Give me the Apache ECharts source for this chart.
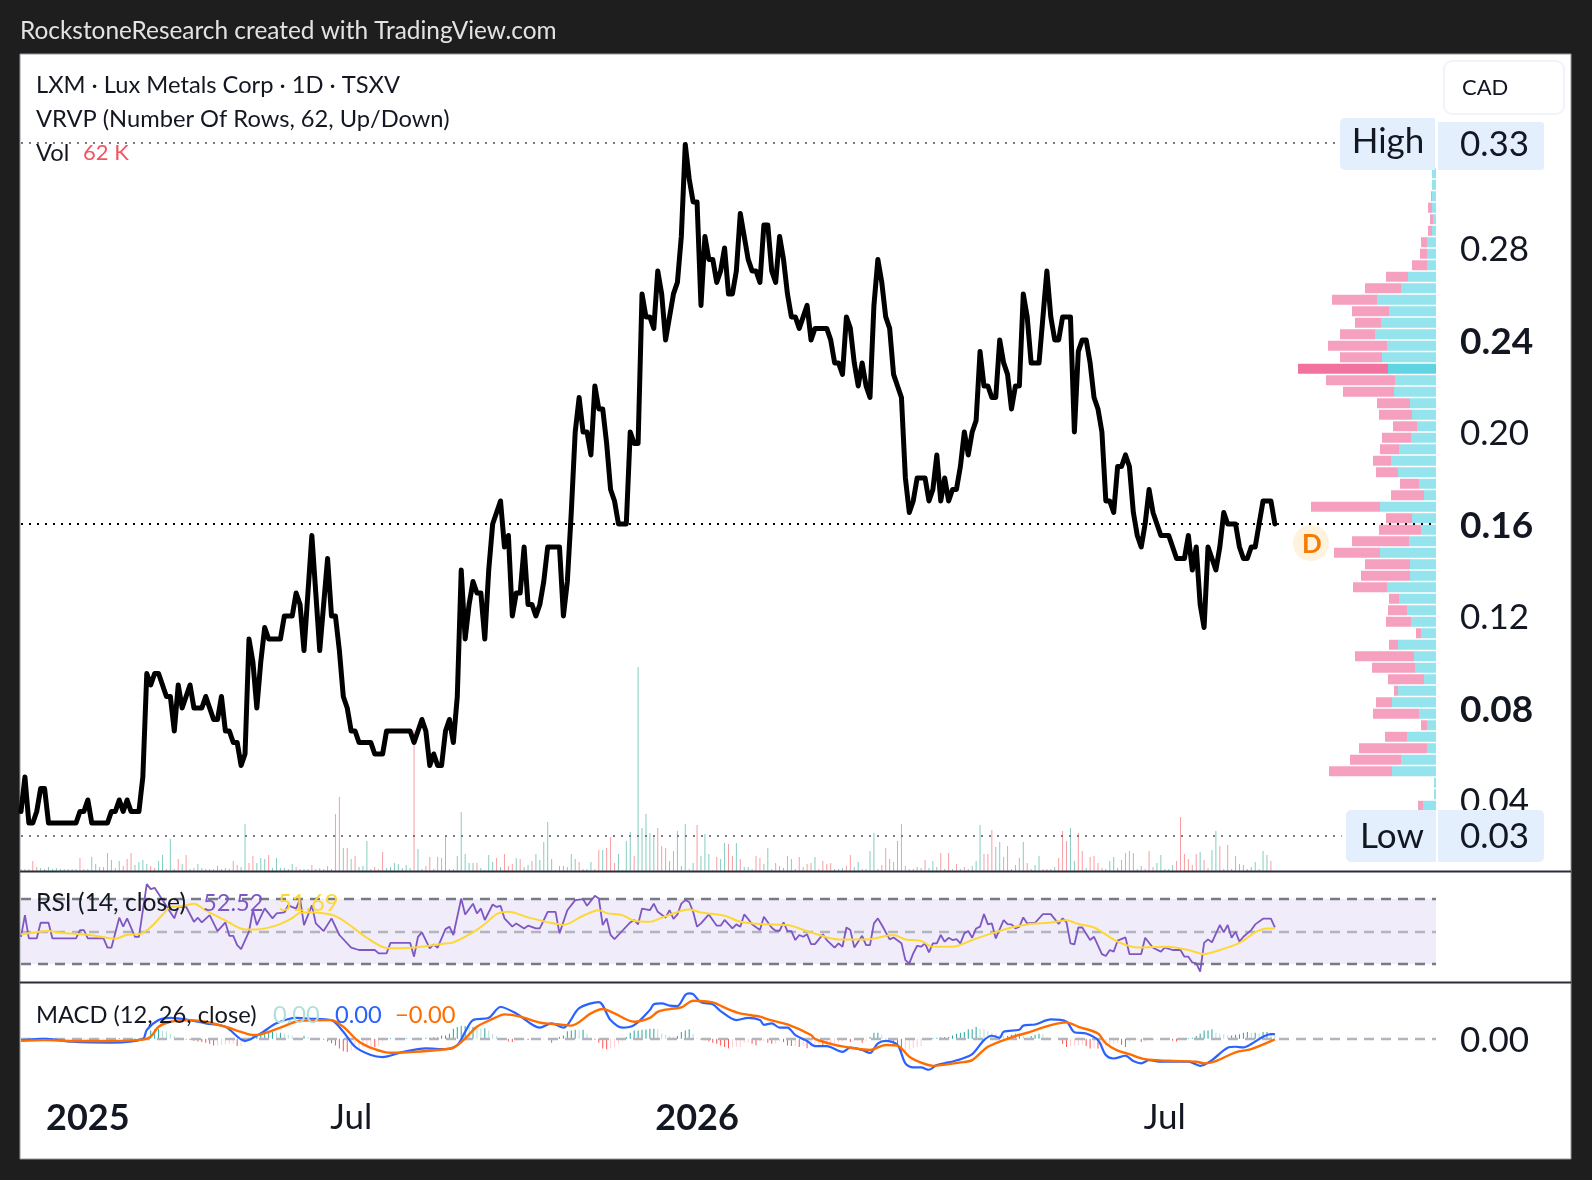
<!DOCTYPE html>
<html><head><meta charset="utf-8">
<style>html,body{margin:0;padding:0;background:#1e1e1e}#c{width:1592px;height:1180px}</style>
<script src="https://cdn.jsdelivr.net/npm/echarts@6/dist/echarts.min.js"></script>
</head><body><div id="c"></div>
<script>
const price=[.035,.05,.03,.03,.035,.045,.045,.03,.03,.03,
.03,.03,.03,.03,.03,.035,.035,.04,.03,.03,
.03,.03,.03,.035,.035,.04,.035,.04,.035,.035,
.035,.05,.095,.09,.095,.095,.09,.085,.085,.07,
.09,.08,.085,.09,.08,.08,.08,.085,.08,.075,
.075,.085,.07,.07,.065,.065,.055,.06,.11,.10,
.08,.10,.115,.11,.11,.11,.11,.12,.12,.12,
.13,.125,.105,.13,.155,.13,.105,.125,.145,.12,
.12,.105,.085,.08,.07,.07,.065,.065,.065,.065,
.06,.06,.06,.07,.07,.07,.07,.07,.07,.07,
.065,.07,.075,.07,.055,.06,.055,.055,
.07,.075,.065,.085,.14,.11,.125,.135,.13,.13,
.11,.14,.16,.165,.17,.15,.155,.12,.13,.13,
.15,.125,.125,.12,.125,.135,.15,.15,.15,.15,
.12,.135,.165,.20,.215,.20,.20,.19,.22,.21,
.21,.195,.175,.17,.16,.16,.16,.20,.195,.195,
.26,.25,.25,.245,.27,.26,.24,.25,.26,
.265,.285,.325,.31,.30,.30,.255,.285,.275,.275,
.265,.27,.28,.26,.26,.27,.295,.285,.275,.27,
.27,.265,.29,.29,.27,.265,.285,.275,.26,.25,
.25,.245,.25,.255,.24,.245,.245,.245,.245,.24,
.23,.23,.225,.25,
.245,.23,.22,.23,.22,.215,.255,.275,.265,.25,
.245,.225,.22,.215,.18,.165,.17,.18,.18,.18,
.17,.175,.19,.17,.18,.17,.175,.175,.185,.20,
.19,.20,.205,.235,.22,.22,.215,.215,.24,.23,
.225,.21,.22,.22,.26,.25,.23,.23,.23,.25,
.27,.25,.24,.24,.25,.25,.25,.20,.235,.24,
.24,.23,.215,.21,.20,.17,.17,.165,.185,.185,
.19,.185,.165,.155,.15,.16,.175,.165,.16,.155,
.155,.155,.15,.145,.145,.145,.155,.14,.15,.125,
.115,.15,.145,.14,.15,.165,.16,.16,.16,.15,
.145,.145,.15,.15,.16,.17,.17,.17,.16];
// positive: up bar, negative: down bar
const volume=[2,2,-2,-10,-4,3,2,4,2,3,2,2,2,2,2,-13,2,2,14,7,-4,4,-18,11,-3,10,-5,-12,-18,6,9,11,7,-5,-3,10,16,-2,32,2,-12,7,-16,2,-3,7,3,-2,-2,-2,5,-2,-3,2,-10,-6,4,47,-8,-15,8,13,12,-16,3,13,3,3,2,7,-4,-2,2,2,-6,-2,3,-2,-5,-2,-57,-74,23,-23,12,-15,4,5,30,2,-4,-2,-19,3,4,8,7,3,6,3,-141,22,2,
-5,-14,2,-14,-13,35,2,-2,15,59,17,8,8,-8,3,1,16,9,-13,4,-17,-5,-7,13,-12,4,6,-10,17,11,29,49,12,1,-5,-5,4,17,12,-9,2,2,9,-2,-21,21,-23,-34,-8,17,1,30,39,-15,204,43,57,38,35,-43,-25,-23,10,-20,40,5,47,-2,8,-46,15,37,17,-1,-14,12,28,-27,-15,28,-12,4,4,-2,-15,-13,7,23,-2,-8,5,3,-15,12,2,-14,-4,-7,-8,14,-2,-10,-7,-8,2,
2,3,-5,-16,4,9,-2,2,20,38,2,-6,-23,12,-9,-30,-47,-5,2,2,-4,3,-11,3,10,4,-18,2,-18,2,-7,2,-4,-2,5,10,46,-17,-17,-41,24,29,-14,-25,2,6,-13,29,-8,2,6,15,-2,-2,-2,4,-13,-40,-30,43,10,-38,-20,3,-14,-15,-8,-3,2,10,14,3,-11,-18,-20,18,2,5,-2,-20,-4,8,16,2,2,6,-10,-54,-17,-12,-6,-17,19,-11,-3,21,40,-25,2,-26,2,-15,7,-6,2,4,9,2,20,16,-10];
const rsi=[[0,46.7],[1,60],[2,45.7],[4,45.7],[5,55.3],[7,55.3],[8,45.7],[14,45.7],[15,50.8],[16,50.8],[17,45.7],[21,45.7],[22,40],[23,40],[25,58.4],[26,52.9],[27,58],[29,46.7],[30,46.7],[32,79],[33,75.9],[34,76.7],[36,69.2],[39,58],[40,65.1],[42,65.1],[44,55.9],[45,58.4],[46,55.5],[48,60],[50,50.2],[52,55.5],[53,47.3],[54,47.3],[55,41.6],[56,39.2],[58,49.8],[59,63.1],[60,53.9],[62,64.1],[64,58],[65,61],[67,61.6],[68,66],[70,64],[71,70],[72,53.9],[74,66],[75,54.9],[77,50.2],[79,58],[81,47.8],[84,40],[86,38.6],[90,38.6],[91,36.5],[93,36.5],[94,43],[99,43],[100,34.5],[101,46.7],[102,49.4],[104,39.6],[105,42],[106,40],[108,51.4],[109,52.9],[110,47.8],[112,70.2],[113,60.4],[115,67],[116,61],[117,64],[118,57],[120,66.5],[121,65],[122,65.7],[123,58],[125,52.9],[126,54.9],[128,51.8],[129,53.5],[131,51.8],[132,51.8],[134,62],[136,62],[137,48.8],[139,63],[141,69.2],[143,69.8],[144,65.7],[146,71.8],[147,70.2],[148,53.9],[149,58],[150,47.8],[151,45.3],[153,50.4],[155,55.5],[156,56.9],[157,54.3],[158,64],[160,63],[161,67],[162,62],[164,58.4],[165,63],[166,57.6],[167,60.4],[168,67],[169,69.2],[170,68],[171,62],[172,52.9],[173,54.9],[175,60.4],[177,53.5],[178,53.5],[179,57],[181,51.8],[182,54.3],[183,52.9],[184,60.4],[185,57.6],[186,54.3],[188,50.8],[189,59],[191,52.2],[192,50.4],[193,50.4],[194,55.5],[195,50.2],[196,50.2],[197,44.7],[198,47.8],[199,46.7],[200,48.2],[201,42.2],[202,42.2],[204,48.2],[205,44.7],[207,40],[208,42.7],[209,40.6],[210,52.4],[211,50.8],[212,40.2],[214,47.3],[215,41.6],[216,41.6],[217,54.9],[218,58],[219,53.9],[221,45.1],[222,46.3],[224,42.7],[225,32.4],[226,30.4],[227,36.5],[228,41.2],[229,40.6],[230,42.7],[231,37.1],[232,42.7],[233,42.7],[234,47.8],[235,43.7],[236,46.1],[237,44.7],[238,45.3],[239,42.7],[240,48.8],[241,50.2],[242,46.1],[243,51.8],[244,52.9],[245,60.6],[246,54.3],[247,54.9],[248,45.7],[250,56.9],[251,54.5],[252,54.3],[253,51.8],[254,52.9],[255,58.6],[256,54.9],[258,55.3],[260,60.6],[262,60.6],[264,54.5],[265,58],[266,55.5],[267,42.7],[268,42],[269,52.4],[270,52.4],[272,44.7],[273,46.7],[275,36.1],[276,34.9],[277,38.6],[278,37.6],[279,44.3],[281,46.3],[282,36.1],[285,36.1],[286,46.1],[288,40],[290,37.6],[291,40],[293,38.6],[295,38.6],[296,34.5],[297,34.5],[298,31],[299,30.4],[300,25.3],[301,43],[302,45.1],[303,43.3],[305,53.9],[306,49.4],[307,53.9],[308,46.1],[309,49.8],[310,43.7],[311,46.7],[313,50.8],[314,54.3],[316,57.8],[318,57.8],[319,52.5]];
const rsiMa=[[0,48.2],[2,48.8],[7,50.2],[10,49.2],[18,47.6],[24,45.5],[27,47.9],[30,48.2],[33,52.6],[36,60.2],[38,64.9],[41,65.5],[44,67],[47,62.9],[52,56.7],[57,51.2],[60,51.2],[65,53.7],[69,58.2],[71,61.4],[74,61.8],[79,60.2],[82,56.7],[88,46.1],[93,39.9],[96,39.7],[101,40.3],[107,42.3],[110,43.3],[115,49.4],[118,54.5],[121,60.6],[124,62],[129,58.6],[135,55.1],[138,54],[143,59.6],[147,63],[149,61.2],[153,60],[156,56.5],[160,55.9],[163,58.4],[170,63.5],[173,61.6],[179,59.6],[183,55.9],[188,54.5],[195,53.9],[201,49.4],[208,45.1],[215,45.1],[222,47.8],[225,45.1],[229,44.1],[232,40.6],[237,40.6],[242,44.7],[247,48.8],[252,52.4],[256,54.3],[262,55.5],[266,56.9],[269,54.5],[273,52.4],[279,43.7],[284,40.2],[292,40.6],[297,38.6],[301,36.1],[305,38.6],[310,43],[314,49.4],[317,51.8],[319,51.8]];
const macd=[[0,-.6],[6,-.1],[13,-1.3],[23,-1.7],[31,-.1],[32,3.8],[35,8.1],[38,9.1],[43,8.1],[47,6.7],[52,5.2],[57,-.9],[61,2.3],[65,6.7],[70,9.1],[73,8.8],[79,8.1],[82,3],[85,-3.5],[89,-7.1],[92,-8],[97,-5.8],[103,-4.2],[108,-4.5],[111,-2.8],[113,3],[115,8.1],[119,9.1],[122,13.8],[126,11],[132,4.8],[135,6.7],[138,4.8],[142,13.3],[147,15.9],[150,8.1],[153,4.8],[156,5.9],[160,12.5],[161,15],[163,15.4],[165,14.4],[167,14.2],[169,19],[170,19.7],[171,19.4],[173,15.8],[176,15],[178,12],[182,8.1],[185,9.1],[188,8.1],[189,6],[191,6.7],[193,4.8],[195,4.8],[197,1.6],[200,-1],[202,-3.2],[205,-3.2],[209,-5.7],[211,-3.9],[214,-4.9],[216,-6.2],[218,-2],[220,-.9],[223,-2.7],[225,-10.7],[227,-12.5],[229,-12.5],[231,-13.5],[233,-11.4],[236,-10.3],[239,-8.9],[242,-6.7],[245,-.6],[247,1.3],[249,.4],[250,3],[254,3.9],[255,5.7],[258,6.2],[262,8.4],[266,7.4],[268,2.8],[271,2.3],[274,-.6],[276,-7.1],[278,-8.6],[281,-7.4],[283,-9.7],[285,-10.7],[287,-9.3],[290,-10],[297,-10],[300,-11.8],[303,-9.3],[307,-3.9],[309,-3.5],[311,-3.8],[313,-2.3],[316,.9],[318,2],[319,2]];
const signal=[[0,-.9],[6,-.6],[13,-1],[23,-1],[31,-.4],[33,.9],[35,5.2],[38,7.4],[43,8.1],[47,7.4],[52,5.2],[56,3],[59,1.6],[61,1.9],[66,4.8],[71,7.8],[79,8.1],[82,5.2],[86,-1.3],[90,-4.5],[94,-6.1],[100,-5.7],[106,-4.9],[110,-3.9],[113,.1],[116,5.2],[120,8.6],[123,10.6],[127,9.6],[132,7],[137,6.2],[140,5.7],[145,11],[148,12.9],[151,11],[156,7.4],[160,9.1],[162,11.7],[165,12.9],[168,13.6],[171,16.5],[176,15.8],[179,13.5],[183,11],[188,9.6],[190,8.4],[195,6.2],[201,1.6],[202,-.1],[207,-2.7],[211,-3.9],[216,-4.9],[220,-2.7],[223,-3],[226,-7.8],[229,-10.4],[232,-11.8],[239,-10.3],[242,-9.3],[246,-3.5],[252,.6],[256,2.6],[262,5.9],[266,7.1],[269,5.2],[274,2.3],[276,-2],[279,-5.2],[282,-6.7],[286,-8.9],[292,-9.6],[299,-10],[301,-10.7],[304,-9.7],[309,-5.9],[313,-4.5],[319,-.3]];
const hist=[.2,.3,.1,.2,-.2,-.1,.2,.1,-.2,-.1,-.2,-.1,.1,-.1,-.2,-.1,.1,-.2,-.1,.1,-.1,.1,.1,-.2,.2,.3,.2,.1,-.1,.2,.3,.2,
.2,3.6,4.1,4.1,3.6,3.2,2.2,1.2,.7,.4,-.3,-.6,-.9,-1.2,-1.4,-1.7,-2.2,-2.9,-2.9,-2.6,-2.5,-2.2,-2.2,-3.2,-3.2,-2.2,.4,1.4,1.7,2.6,2.9,2.9,2.9,2.6,2.6,2.2,1.7,1.4,.7,.4,1.2,.7,.3,.3,-.2,-.4,-1.2,-2,-2.9,-4.3,-5.5,-5.8,-5.1,-5.1,-4.3,-3.6,-2.9,-2.9,-3.6,-3.2,-1.2,-.3,.3,.2,.3,.2,.3,.2,.3,.4,.3,.4,.4,.6,.6,1.4,1.4,2.2,4.3,5.1,5.5,5.5,5.1,5.1,4.6,4.3,4.6,3.6,2.2,1.2,.3,-.6,-1.2,-1.4,-.9,-.6,-.4,-.6,-.6,-.4,-.4,-.4,-.4,-1.7,-.3,.7,1.4,3.2,3.6,3.9,3.6,3.9,2.2,.4,-.4,-1.7,-4.3,-4.6,-4.3,-3.6,-2.2,-1.2,.7,2.6,3.6,3.6,3.9,4,
4.3,4.3,4.1,2.2,1.7,1.2,.7,1.2,2.9,3.6,4.1,2.2,.3,-.4,-.7,-1.2,-1.7,-2.2,-2.9,-3.6,-4.1,-3.6,-3.6,-3.6,-1.7,-1.7,-2.2,-2.9,-1.4,-1.2,-1.7,-2.2,-2.2,-1.2,-1.4,-2.9,-3.2,-3.2,-3.6,-3.2,-4.1,-3.6,-3.2,-2.6,-2.9,-2.6,-2.2,-2.2,-1.4,-1.2,-.6,-1.4,-1.2,-.9,-1.7,-1.2,.7,2.6,2.6,1.7,.4,-.3,-1.2,-3.6,-6.1,-5.5,-4.6,-4.1,-3.6,-3.2,-.7,.1,.3,.4,.6,.7,.7,1.4,2.2,2.6,2.9,4.1,4.1,5.1,4.3,4.1,3.2,2.6,2.2,1.7,1.2,1.2,1.7,2.2,2.2,1.2,.4,1.2,1.7,2.2,2,.6,.3,.1,-.3,-2.2,-3.6,-3.2,-2.9,-2.9,-2.6,-3.2,-4.3,-4.1,-4.3,-4.1,-3.2,-2.9,-2.2,-1.7,-2.6,-3.6,-1.4,-.6,-.3,-1.4,-1.2,-.3,-.4,-.3,-.3,-.4,-.3,-.9,-1.2,-.3,-.4,.3,.4,1.2,2.2,3.6,3.6,4.1,2.6,2.2,2,1.4,1.4,1.7,2,2.6,2.9,2.6,2.6,2.2,2.9,2.9,2.6,2.2];
const vpLevels=[.3275,.3225,.3175,.3125,.3075,.3025,.2975,.2925,.2875,.2825,.2775,.2725,.2675,.2625,.2575,.2525,.2475,.2425,.2375,.2325,.2275,.2225,.2175,.2125,.2075,.2025,.1975,.1925,.1875,.1825,.1775,.1725,.1675,.1625,.1575,.1525,.1475,.1425,.1375,.1325,.1275,.1225,.1175,.1125,.1075,.1025,.0975,.0925,.0875,.0825,.0775,.0725,.0675,.0625,.0575,.0525,.0475,.0425,.0375,.0325,.0275];
const vpUp=[0,0,0,4,4,4,4,3,4,9,9,9,28,35,59,47,55,61,49,54,48,41,42,26,24,19,25,37,45,38,17,12,56,24,15,27,56,26,26,49,37,29,25,15,38,22,21,12,38,44,17,9,29,9,35,44,2,2,13,0,0];
const vpDown=[0,0,0,0,0,1,4,3,4,6,7,15,22,36,45,37,26,35,59,42,90,69,51,33,33,24,29,19,18,22,19,33,69,26,42,57,46,45,49,34,10,19,25,5,9,59,43,36,4,16,46,6,22,68,51,63,0,0,5,0,0];
const padBars=41;
const tickIdx=[17,84,172,291];
const tickLabels=['2025','Jul','2026','Jul'];
const yTicks=[.04,.08,.12,.16,.20,.24,.28];
const boldTicks=[.08,.16,.24];
const highVal=.3258,lastVal=.16,lowVal=.0243;

const F='Lato, "Open Sans", sans-serif', INK='#131722';
const total=price.length+padBars;
const cats=Array.from({length:total},(_,i)=>{const k=tickIdx.indexOf(i);return k>=0?tickLabels[k]:''});
const hcol=hist.map((v,i)=>{const p=i?hist[i-1]:0;return v>=0?(v>=p?'#26a69a':'#b2dfdb'):(v<p?'#ff5252':'#ffcdd2')});
const vpTot=vpUp.map((u,i)=>u+vpDown[i]);const poc=vpTot.indexOf(Math.max(...vpTot));
const T=(text,x,y,size,fill,extra)=>({type:'text',z:120,style:Object.assign({text,x,y,font:`${extra&&extra.w||'normal'} ${size}px ${F}`,fill,textVerticalAlign:'middle',textAlign:(extra&&extra.a)||'left'})});
const R=(x,y,w,h,fill,r,z)=>({type:'rect',z:z||100,shape:{x,y,width:w,height:h,r:r||0},style:{fill}});
const L=(y)=>({type:'line',z:90,shape:{x1:20,y1:y,x2:1571,y2:y},style:{stroke:'#2a2e39',lineWidth:2}});
const graphic=[
 {type:'rect',z:-10,shape:{x:20,y:54,width:1551,height:1105},style:{fill:'#fff',stroke:'#9598a1',lineWidth:1}},
 T('RockstoneResearch created with TradingView.com',20,31,24.4,'#e3e3e3'),
 T('LXM · Lux Metals Corp · 1D · TSXV',36,85,23.7,INK),
 T('VRVP (Number Of Rows, 62, Up/Down)',36,119,23.7,INK),
 T('Vol',36,153,23.7,INK),T('62 K',83,153,22,'#f7525f'),
 T('RSI (14, close)',36,903,24.6,INK),T('52.52',203,903,23.7,'#7e57c2'),T('51.69',278,903,23.7,'#fdd835'),
 T('MACD (12, 26, close)',36,1015,23.7,INK),T('0.00',273,1015,23.7,'#b2dfdb'),T('0.00',335,1015,23.7,'#2962ff'),T('−0.00',395,1015,23.7,'#ff6d00'),
 L(871.5),L(982.5),
 {type:'rect',z:100,shape:{x:1444,y:61,width:120,height:53,r:8},style:{fill:'#fff',stroke:'#f0f3fa',lineWidth:2}},
 T('CAD',1462,88,22,INK),
 R(1340,118,95,52,'#e3effd',[5,0,0,5]),R(1438,122,106,48,'#e3effd',[0,3,3,0]),
 T('High',1388,142,35,INK,{a:'center'}),T('0.33',1460,145,35,INK),
 R(1346,810,90,52,'#e3effd',[5,0,0,5]),R(1438,810,106,52,'#e3effd',[0,5,5,0]),
 T('Low',1392,837,35,INK,{a:'center'}),T('0.03',1460,837,35,INK),
 {type:'circle',z:100,shape:{cx:1311,cy:543,r:18},style:{fill:'#fff3e0'}},
 T('D',1312,545,26,'#f57c00',{a:'center',w:'bold'})
];
const hiddenCat=(g,extra)=>Object.assign({type:'category',gridIndex:g,data:cats,boundaryGap:false,axisLine:{show:false},axisTick:{show:false},axisLabel:{show:false},splitLine:{show:false}},extra||{});
const hiddenVal=(g,min,max,extra)=>Object.assign({type:'value',gridIndex:g,min,max,axisLine:{show:false},axisTick:{show:false},axisLabel:{show:false},splitLine:{show:false}},extra||{});
const dot=(val,end,color,dash,w)=>({symbol:'none',silent:true,animation:false,label:{show:false},emphasis:{disabled:true},lineStyle:{color,type:dash,width:w},data:[[{coord:[0,val]},{coord:[end,val]}]]});
const chart=echarts.init(document.getElementById('c'),null,{renderer:'canvas'});
chart.setOption({
 animation:false,backgroundColor:'#1e1e1e',graphic,
 grid:[
  {left:21,right:156,top:54,height:817},
  {left:21,right:156,top:873,height:108},
  {left:21,right:156,top:984,height:106},
  {left:1280,right:156,top:133,height:701.5}
 ],
 xAxis:[hiddenCat(0),hiddenCat(1),
  hiddenCat(2,{axisLabel:{show:true,margin:8,interval:(i,v)=>v!=='',hideOverlap:false,
    formatter:v=>/^\d/.test(v)?`{y|${v}}`:`{m|${v}}`,
    rich:{y:{fontFamily:F,fontSize:36,fontWeight:'bold',color:INK,lineHeight:40},m:{fontFamily:F,fontSize:35,color:INK,lineHeight:40}}}}),
  {type:'value',gridIndex:3,inverse:true,min:0,max:156,show:false}],
 yAxis:[
  hiddenVal(0,.00913,.3643,{position:'right',axisLabel:{show:true,margin:24,customValues:yTicks,
    formatter:v=>{const s=v.toFixed(2);return boldTicks.includes(+s)?`{b|${s}}`:`{n|${s}}`},
    rich:{b:{fontFamily:F,fontSize:37,fontWeight:'bold',color:INK,padding:[4,0,0,0]},n:{fontFamily:F,fontSize:35,color:INK,padding:[4,0,0,0]}}}}),
  hiddenVal(0,0,817),
  hiddenVal(1,19.6,85.8),
  hiddenVal(2,-22.3,23.8,{position:'right',axisLabel:{show:true,margin:24,customValues:[0],formatter:()=>'{n|0.00}',
    rich:{n:{fontFamily:F,fontSize:35,color:INK,padding:[4,0,0,0]}}}}),
  {type:'category',gridIndex:3,inverse:true,data:vpLevels.map(String),show:false}
 ],
 series:[
  {type:'bar',name:'VP up',xAxisIndex:3,yAxisIndex:4,stack:'vp',barWidth:10,z:1,silent:true,
   data:vpUp.map((v,i)=>({value:v,itemStyle:{color:i===poc?'#5fd4e3':'#95e3ec'}}))},
  {type:'bar',name:'VP down',xAxisIndex:3,yAxisIndex:4,stack:'vp',barWidth:10,z:1,silent:true,
   data:vpDown.map((v,i)=>({value:v,itemStyle:{color:i===poc?'#f2729f':'#f6a0bf'}}))},
  {type:'bar',name:'Volume',xAxisIndex:0,yAxisIndex:1,barWidth:1,z:2,silent:true,
   data:volume.map(v=>({value:Math.abs(v),itemStyle:{color:v<0?'#f79ea3':'#84cdc1'}}))},
  {type:'line',name:'Price',xAxisIndex:0,yAxisIndex:0,data:price,showSymbol:false,symbol:'none',z:5,silent:true,
   lineStyle:{color:'#000',width:5,cap:'round',join:'round'},
   markLine:dot(lastVal,359,'#000',[2,6],2)},
  {type:'line',name:'Hi',xAxisIndex:0,yAxisIndex:0,data:[],z:4,markLine:dot(highVal,335,'#787b86',[2,6],2)},
  {type:'line',name:'Lo',xAxisIndex:0,yAxisIndex:0,data:[],z:4,markLine:dot(lowVal,336,'#787b86',[2,6],2)},
  {type:'line',name:'RSI',xAxisIndex:1,yAxisIndex:2,data:rsi,showSymbol:false,symbol:'none',z:5,silent:true,lineStyle:{color:'#7e57c2',width:1.8},
   markArea:{silent:true,itemStyle:{color:'#f0ecf9'},data:[[{coord:[0,70]},{coord:[total-1,30]}]]},
   markLine:{symbol:'none',silent:true,label:{show:false},data:[
    {yAxis:70,lineStyle:{color:'#787b86',type:[10,7],width:2.4}},
    {yAxis:50,lineStyle:{color:'#b2b5be',type:[10,7],width:2.4}},
    {yAxis:30,lineStyle:{color:'#787b86',type:[10,7],width:2.4}}]}},
  {type:'line',name:'RSI MA',xAxisIndex:1,yAxisIndex:2,data:rsiMa,showSymbol:false,symbol:'none',smooth:.3,z:6,silent:true,lineStyle:{color:'#fdd835',width:2}},
  {type:'bar',name:'Hist',xAxisIndex:2,yAxisIndex:3,barWidth:1,z:2,silent:true,data:hist.map((v,i)=>({value:v,itemStyle:{color:hcol[i]}})),
   markLine:{symbol:'none',silent:true,label:{show:false},data:[{yAxis:0,lineStyle:{color:'#b2b5be',type:[10,7],width:2.4}}]}},
  {type:'line',name:'MACD',xAxisIndex:2,yAxisIndex:3,data:macd,showSymbol:false,symbol:'none',smooth:.3,z:5,silent:true,lineStyle:{color:'#2962ff',width:2.2}},
  {type:'line',name:'Signal',xAxisIndex:2,yAxisIndex:3,data:signal,showSymbol:false,symbol:'none',smooth:.3,z:6,silent:true,lineStyle:{color:'#ff6d00',width:2.4}}
 ]
});
</script></body></html>
